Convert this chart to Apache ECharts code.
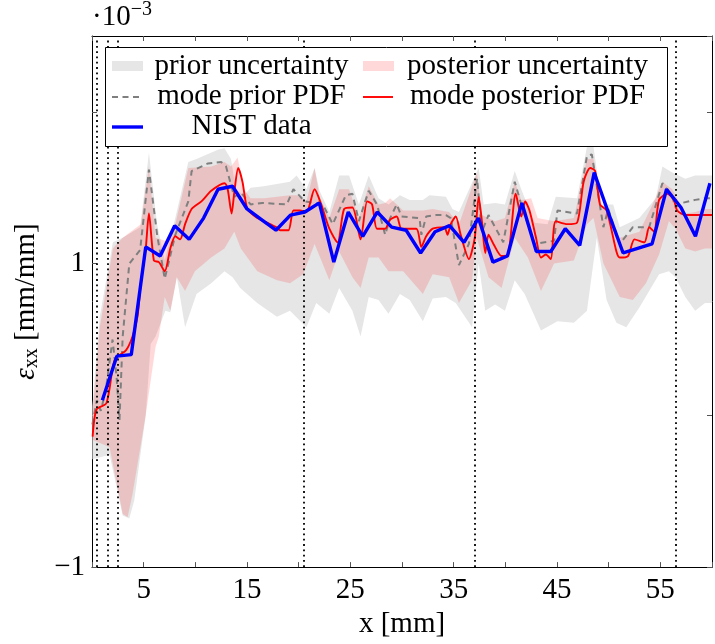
<!DOCTYPE html>
<html><head><meta charset="utf-8">
<script src="https://cdn.jsdelivr.net/npm/echarts@6/dist/echarts.min.js"></script>
<style>html,body{margin:0;padding:0;background:#fff}#c{width:715px;height:644px}</style>
</head><body><div id="c"></div>
<script>
// NIST data
const nistX = [1.0,2.4,3.8,5.2,6.6,8.0,9.4,10.8,12.2,13.6,15.0,16.4,17.8,19.2,20.6,22.0,23.4,24.8,26.2,27.6,29.0,30.4,31.8,33.2,34.6,36.0,37.4,38.8,40.2,41.6,43.0,44.4,45.8,47.2,48.6,50.0,51.4,52.8,54.2,55.6,57.0,58.4,59.8];
const nistY = [0.10,0.39,0.40,1.11,1.05,1.25,1.16,1.30,1.49,1.51,1.36,1.29,1.22,1.32,1.34,1.40,1.01,1.34,1.18,1.34,1.24,1.22,1.07,1.21,1.25,1.14,1.30,1.01,1.05,1.40,1.08,1.08,1.23,1.12,1.60,1.33,1.07,1.10,1.13,1.49,1.37,1.18,1.53];
// mode posterior PDF
const postX = [0.06,0.44,1.39,2.02,2.34,3.30,3.92,4.40,4.72,5.20,5.51,5.99,6.47,7.04,7.58,8.06,8.53,9.01,9.64,10.59,11.54,12.82,13.13,13.51,13.77,14.15,14.56,15.04,15.99,16.94,17.83,18.21,19.01,19.49,20.11,20.75,21.54,22.18,22.97,23.77,24.40,25.20,25.99,26.63,27.10,27.58,28.37,28.85,29.49,29.96,31.39,31.87,32.34,32.97,34.09,34.40,34.72,35.20,35.68,36.47,37.04,37.42,37.73,38.06,38.37,38.85,39.64,40.28,41.01,41.54,41.92,42.34,42.97,43.45,43.92,44.40,44.88,45.99,46.94,47.58,48.21,48.69,49.16,49.80,50.75,51.07,51.87,52.50,53.45,53.92,54.40,54.88,55.68,56.30,56.63,57.42,58.37,59.32,60.0];
const postY = [-0.14,0.04,0.08,0.32,0.38,0.43,0.52,0.65,0.87,1.10,1.33,1.02,1.01,0.95,1.10,1.18,1.16,1.26,1.36,1.41,1.48,1.53,1.49,1.33,1.47,1.63,1.54,1.36,1.30,1.27,1.24,1.22,1.22,1.35,1.35,1.34,1.49,1.39,1.23,1.14,1.36,1.37,1.16,1.41,1.39,1.23,1.23,1.29,1.31,1.23,1.23,1.11,1.18,1.23,1.24,1.19,1.26,1.31,1.19,1.03,1.17,1.44,1.28,1.07,1.19,1.13,1.05,1.06,1.46,1.31,1.41,1.35,1.17,1.04,1.06,1.03,1.28,1.26,1.27,1.54,1.63,1.61,1.39,1.35,1.08,1.04,1.05,1.16,1.14,1.24,1.21,1.42,1.46,1.42,1.35,1.32,1.32,1.32,1.32];
// mode prior PDF
const priorX = [0.04,0.47,0.85,1.32,1.99,2.37,2.66,2.97,3.61,4.66,5.51,6.30,7.04,8.06,9.32,9.64,11.23,12.50,12.97,13.77,14.40,15.35,16.47,18.85,19.49,20.59,22.34,23.30,24.56,25.20,25.83,26.78,27.58,28.37,28.85,29.49,29.96,31.70,31.87,32.34,33.30,34.25,34.72,35.51,36.47,37.26,37.73,38.37,39.80,40.91,41.54,42.82,44.72,45.04,46.94,47.90,48.37,49.49,49.96,51.07,52.34,53.92,55.20,56.15,56.47,57.10,58.37,59.32,60.0];
const priorY = [-0.06,0.10,0.03,0.16,0.50,0.26,-0.03,0.52,1.00,1.09,1.62,1.19,0.90,1.19,1.41,1.61,1.66,1.67,1.64,1.44,1.47,1.39,1.40,1.39,1.49,1.41,1.39,1.26,1.45,1.46,1.28,1.48,1.39,1.19,1.30,1.39,1.31,1.30,1.19,1.31,1.32,1.32,1.30,0.99,1.13,1.56,1.21,1.32,1.14,1.54,1.39,1.13,1.15,1.35,1.33,1.71,1.72,1.24,1.36,1.13,1.24,1.24,1.53,1.44,1.37,1.40,1.42,1.43,1.43];
// prior uncertainty band
const priorUpX = [0.04,0.75,2.02,2.97,4.66,5.51,6.30,7.04,8.06,9.32,10.11,12.18,12.82,13.45,13.92,14.72,15.35,16.63,19.16,19.80,20.75,21.54,22.02,22.97,23.92,24.88,25.83,26.78,27.73,28.69,29.80,30.75,32.02,32.66,34.25,34.88,35.51,37.42,37.90,39.01,39.96,40.91,41.54,42.82,44.09,44.88,46.94,47.90,48.53,49.32,50.44,51.07,52.97,54.56,55.20,56.15,57.42,58.37,59.32,60.0];
const priorUpY = [0.06,0.65,1.14,1.17,1.24,1.73,1.26,1.02,1.30,1.67,1.69,1.75,1.76,1.69,1.49,1.45,1.50,1.51,1.54,1.58,1.49,1.63,1.48,1.34,1.58,1.58,1.39,1.58,1.43,1.39,1.45,1.42,1.42,1.45,1.44,1.36,1.34,1.63,1.39,1.40,1.39,1.61,1.49,1.27,1.26,1.44,1.43,1.77,1.77,1.39,1.39,1.24,1.30,1.43,1.64,1.60,1.56,1.58,1.58,1.58];
const priorLoX = [0.04,1.70,2.97,3.61,4.09,5.20,5.68,6.15,7.10,7.58,8.21,9.01,10.11,11.54,12.82,13.61,14.35,15.99,17.90,19.16,20.75,21.70,22.97,23.92,25.20,25.99,26.78,27.73,28.69,29.80,30.75,32.02,32.97,34.25,35.20,36.78,37.42,38.06,39.01,39.96,40.91,41.87,43.45,45.04,46.63,47.90,48.85,49.80,50.75,51.70,52.97,54.88,55.83,56.47,57.42,58.37,59.32,60.0];
const priorLoY = [-0.29,-0.26,-0.66,-0.68,-0.56,0.00,0.47,0.52,0.69,0.68,0.91,0.58,0.80,0.87,0.95,0.91,0.84,0.74,0.65,0.69,0.58,0.74,0.67,0.84,0.69,0.52,0.78,0.76,0.67,0.80,0.76,0.62,0.77,0.78,0.74,0.58,1.00,0.69,0.73,0.69,0.89,0.80,0.56,0.62,0.61,0.69,1.17,0.76,0.61,0.58,0.71,0.93,0.95,0.91,0.78,0.69,0.74,0.74];
// posterior uncertainty band
const postUpX = [0.04,0.75,2.02,2.97,4.72,5.51,6.15,7.10,8.06,9.32,11.54,12.82,13.45,14.09,14.72,15.35,16.63,19.16,19.80,20.75,21.54,22.02,22.97,23.92,24.88,25.83,26.78,27.73,28.37,28.85,30.11,32.02,32.97,34.56,35.51,37.26,37.73,39.01,39.96,40.91,41.54,42.50,43.13,44.72,46.63,47.90,48.53,49.32,50.44,51.07,52.97,54.25,55.20,56.15,57.42,58.37,59.32,60.0];
const postUpY = [0.00,0.58,1.10,1.17,1.26,1.64,1.17,1.15,1.26,1.63,1.64,1.67,1.64,1.70,1.49,1.43,1.43,1.45,1.45,1.41,1.63,1.44,1.30,1.49,1.49,1.30,1.51,1.39,1.40,1.43,1.35,1.35,1.36,1.34,1.26,1.60,1.32,1.28,1.30,1.54,1.42,1.43,1.30,1.28,1.30,1.69,1.69,1.39,1.28,1.17,1.21,1.39,1.54,1.49,1.33,1.34,1.36,1.36];
const postLoX = [0.04,1.70,2.97,3.45,3.92,5.20,6.15,6.47,7.04,7.58,8.21,9.01,9.96,11.54,12.82,13.77,14.40,15.99,17.90,19.16,20.44,21.54,22.97,23.92,25.20,25.99,26.78,27.73,28.69,30.11,32.02,32.97,34.56,35.51,36.78,37.23,38.37,39.64,40.91,42.18,43.45,44.72,46.63,47.90,48.53,49.49,51.07,52.34,53.61,54.88,55.83,56.47,57.42,58.37,59.32,60.0];
const postLoY = [-0.16,-0.21,-0.65,-0.67,-0.52,0.00,0.45,0.52,0.78,0.69,0.91,0.82,0.95,1.04,1.10,1.21,1.10,0.95,0.89,0.87,0.93,1.13,0.89,1.08,0.91,0.84,1.04,1.04,0.95,0.95,0.80,0.93,0.91,0.74,0.89,1.17,0.91,0.84,1.17,1.04,0.82,1.00,1.02,1.26,1.30,1.00,0.78,0.76,0.87,1.06,1.28,1.23,1.10,1.08,1.10,1.10];
// vertical dotted markers
const markX = [0.5,1.5,2.5,20.5,37,56.5];
// axis tick labels
const xLabels = [5,15,25,35,45,55];
const yLabels = [-1,1];

const FONT = 'Liberation Serif';
const zip = (a,b) => a.map((v,i)=>[v,b[i]]);

function band(upX, upY, loX, loY, fill) {
  return function(params, api) {
    const pts = [];
    for (let i = 0; i < upX.length; i++) pts.push(api.coord([upX[i], upY[i]]));
    for (let i = loX.length - 1; i >= 0; i--) pts.push(api.coord([loX[i], loY[i]]));
    return {type:'polygon', shape:{points:pts}, style:{fill:fill}};
  };
}

const chart = echarts.init(document.getElementById('c'), null, {renderer:'canvas'});
const tickStyle = {show:true, inside:true, length:5, lineStyle:{color:'#555', width:1}};
const option = {
  animation:false,
  backgroundColor:'#fff',
  grid:{left:92, top:36, width:630, height:538, containLabel:false},
  xAxis:[{
    type:'value', min:0, max:60, interval:5, position:'bottom',
    axisLine:{show:true, onZero:false, lineStyle:{color:'#000', width:1}},
    axisTick:tickStyle, splitLine:{show:false},
    axisLabel:{margin:9, fontFamily:FONT, fontSize:29, color:'#000',
      formatter:v => xLabels.indexOf(v) >= 0 ? String(v) : ''},
    name:'x [mm]', nameLocation:'middle', nameGap:42,
    nameTextStyle:{fontFamily:FONT, fontSize:29, color:'#000'}
  },{
    type:'value', min:0, max:60, interval:5, position:'top',
    axisLine:{show:true, onZero:false, lineStyle:{color:'#000', width:1}},
    axisTick:tickStyle, splitLine:{show:false}, axisLabel:{show:false}
  }],
  yAxis:[{
    type:'value', min:-1, max:2.5, interval:1, position:'left',
    axisLine:{show:true, onZero:false, lineStyle:{color:'#000', width:1}},
    axisTick:tickStyle, splitLine:{show:false},
    axisLabel:{margin:7, fontFamily:FONT, fontSize:29, color:'#000',
      showMaxLabel:false,
      formatter:v => yLabels.indexOf(v) >= 0 ? (v < 0 ? '\u2212' + Math.abs(v) : String(v)) : ''},
    name:'{e|ε}{s|xx} [mm/mm]', nameLocation:'middle', nameGap:50,
    nameTextStyle:{fontFamily:FONT, fontSize:29, color:'#000',
      rich:{e:{fontFamily:FONT, fontSize:29, fontStyle:'italic', color:'#000'},
            s:{fontFamily:FONT, fontSize:20, color:'#000', verticalAlign:'bottom', padding:[12,0,0,0]}}}
  },{
    type:'value', min:-1, max:2.5, interval:1, position:'right',
    axisLine:{show:true, onZero:false, lineStyle:{color:'#000', width:1}},
    axisTick:tickStyle, splitLine:{show:false}, axisLabel:{show:false}
  }],
  series:[
    {type:'custom', name:'prior uncertainty', renderItem:band(priorUpX, priorUpY, priorLoX, priorLoY, '#e6e6e6'),
     data:[[0,0]], encode:{x:0,y:1}, silent:true, z:1},
    {type:'custom', name:'posterior uncertainty', renderItem:band(postUpX, postUpY, postLoX, postLoY, 'rgba(255,0,0,0.15)'),
     data:[[0,0]], encode:{x:0,y:1}, silent:true, z:1},
    {type:'line', name:'mode prior PDF', data:zip(priorX, priorY), showSymbol:false, symbol:'none',
     lineStyle:{color:'#7f7f7f', width:2, type:[6,4.5]}, z:3},
    {type:'line', name:'mode posterior PDF', data:zip(postX, postY), showSymbol:false, symbol:'none', smooth:0.25,
     lineStyle:{color:'#ff0000', width:1.9}, z:4},
    {type:'line', name:'NIST data', data:zip(nistX, nistY), showSymbol:false, symbol:'none',
     lineStyle:{color:'#0000ff', width:3.4}, z:5,
     markLine:{silent:true, symbol:['none','none'], label:{show:false},
       lineStyle:{color:'#000', width:1.8, type:[1.8,3.5]},
       data:markX.map(v => ({xAxis:v}))}}
  ],
  graphic:[
    {type:'text', left:92, top:0, z:100,
     style:{text:'{a|·10}{b|\u22123}', rich:{a:{fontFamily:FONT, fontSize:29, fill:'#000', lineHeight:34},
       b:{fontFamily:FONT, fontSize:20, fill:'#000', verticalAlign:'top', lineHeight:34}}}},
    {type:'rect', z:100, shape:{x:105.5, y:47.5, width:562, height:99}, style:{fill:'#fff', stroke:'#000', lineWidth:1}},
    {type:'rect', z:101, shape:{x:112, y:61, width:31, height:10}, style:{fill:'#e6e6e6'}},
    {type:'rect', z:101, shape:{x:363, y:61, width:31, height:10}, style:{fill:'rgba(255,0,0,0.15)'}},
    {type:'line', z:101, shape:{x1:112, y1:97, x2:143, y2:97}, style:{stroke:'#7f7f7f', lineWidth:2, lineDash:[6,4.5]}},
    {type:'line', z:101, shape:{x1:363, y1:97, x2:393, y2:97}, style:{stroke:'#ff0000', lineWidth:1.9}},
    {type:'line', z:101, shape:{x1:112, y1:127, x2:143, y2:127}, style:{stroke:'#0000ff', lineWidth:3.4}},
    {type:'text', z:101, x:251.5, y:66, style:{text:'prior uncertainty', font:'29px "Liberation Serif"', fill:'#000', textAlign:'center', textVerticalAlign:'middle'}},
    {type:'text', z:101, x:527.5, y:66, style:{text:'posterior uncertainty', font:'29px "Liberation Serif"', fill:'#000', textAlign:'center', textVerticalAlign:'middle'}},
    {type:'text', z:101, x:251.5, y:96, style:{text:'mode prior PDF', font:'29px "Liberation Serif"', fill:'#000', textAlign:'center', textVerticalAlign:'middle'}},
    {type:'text', z:101, x:527.5, y:96, style:{text:'mode posterior PDF', font:'29px "Liberation Serif"', fill:'#000', textAlign:'center', textVerticalAlign:'middle'}},
    {type:'text', z:101, x:251.5, y:126, style:{text:'NIST data', font:'29px "Liberation Serif"', fill:'#000', textAlign:'center', textVerticalAlign:'middle'}}
  ]
};
chart.setOption(option);
</script></body></html>
